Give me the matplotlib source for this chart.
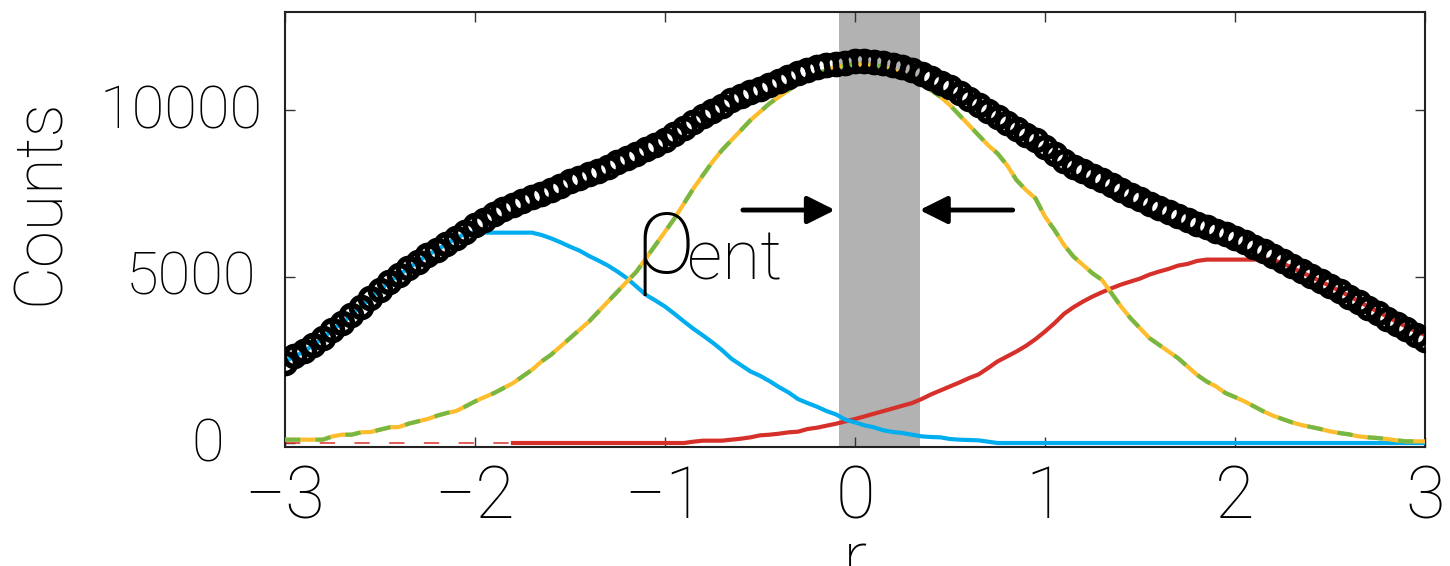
import numpy as np
import matplotlib
matplotlib.use("Agg")
import matplotlib.pyplot as plt
from matplotlib import transforms

plt.rcParams['font.family'] = ['Roboto', 'DejaVu Sans']
plt.rcParams['font.weight'] = 'light'
plt.rcParams['axes.labelweight'] = 'light'
plt.rcParams['lines.scale_dashes'] = False

# bin centres
r = np.linspace(-3, 3, 121)

# total counts (open circles)
counts_total = [
    2400, 2600, 2750, 2950, 3150, 3400, 3600, 3850, 4100, 4350,
    4600, 4850, 5050, 5250, 5450, 5650, 5800, 5980, 6150, 6350,
    6550, 6700, 6880, 7020, 7150, 7260, 7380, 7480, 7600, 7730,
    7860, 7970, 8080, 8180, 8300, 8430, 8560, 8690, 8820, 8960,
    9100, 9280, 9460, 9650, 9830, 9990, 10140, 10300, 10430, 10540,
    10650, 10760, 10880, 11000, 11120, 11220, 11300, 11360, 11400, 11430,
    11480, 11470, 11460, 11430, 11370, 11300, 11210, 11100, 10960, 10830,
    10700, 10520, 10350, 10170, 9980, 9800, 9620, 9430, 9250, 9100,
    8880, 8680, 8470, 8300, 8160, 8020, 7900, 7750, 7600, 7450,
    7320, 7190, 7060, 6940, 6820, 6700, 6590, 6480, 6370, 6270,
    6170, 6040, 5900, 5760, 5620, 5470, 5320, 5170, 5030, 4880,
    4730, 4560, 4400, 4230, 4060, 3900, 3740, 3580, 3420, 3250,
    3080,
]

# left component (blue)
counts_left = [
    2450, 2600, 2750, 2950, 3150, 3400, 3600, 3850, 4100, 4350,
    4600, 4850, 5050, 5250, 5450, 5650, 5800, 5980, 6150, 6300,
    6320, 6320, 6320, 6320, 6320, 6320, 6320, 6250, 6150, 6030,
    5900, 5780, 5620, 5480, 5330, 5150, 4950, 4700, 4450, 4280,
    4100, 3880, 3650, 3430, 3230, 3020, 2790, 2530, 2340, 2150,
    2020, 1860, 1680, 1520, 1320, 1200, 1090, 960, 860, 700,
    620, 530, 470, 380, 330, 300, 250, 200, 180, 170,
    120, 100, 90, 80, 40, 0, 0, 0, 0, 0,
    0, 0, 0, 0, 0, 0, 0, 0, 0, 0,
    0, 0, 0, 0, 0, 0, 0, 0, 0, 0,
    0, 0, 0, 0, 0, 0, 0, 0, 0, 0,
    0, 0, 0, 0, 0, 0, 0, 0, 0, 0,
    0,
]

# central component (yellow / green)
counts_centre = [
    100, 100, 100, 100, 100, 200, 250, 250, 320, 330,
    400, 470, 480, 580, 650, 720, 820, 900, 960, 1100,
    1250, 1380, 1500, 1650, 1800, 2000, 2200, 2450, 2650, 2900,
    3150, 3400, 3650, 3950, 4250, 4550, 4850, 5150, 5550, 5950,
    6350, 6750, 7200, 7650, 8050, 8450, 8800, 9100, 9400, 9700,
    9950, 10200, 10400, 10600, 10800, 10950, 11100, 11200, 11300, 11350,
    11380, 11380, 11350, 11300, 11200, 11100, 10950, 10800, 10600, 10400,
    10150, 9850, 9550, 9250, 8950, 8700, 8350, 7900, 7600, 7350,
    6800, 6400, 5950, 5600, 5350, 5100, 4900, 4500, 4100, 3750,
    3450, 3150, 2950, 2750, 2550, 2300, 2050, 1850, 1700, 1500,
    1380, 1250, 1100, 950, 820, 720, 620, 540, 480, 420,
    350, 300, 260, 200, 170, 150, 120, 80, 50, 50,
    50,
]

# right component (red), starting at r = -1.8
r_right = r[24:]
counts_right = [
    0, 0, 0, 0, 0, 0, 0, 0, 0, 0,
    0, 0, 0, 0, 0, 0, 0, 0, 0, 40,
    70, 70, 70, 100, 130, 170, 230, 250, 280, 320,
    340, 420, 460, 520, 580, 650, 720, 800, 880, 960,
    1040, 1120, 1200, 1320, 1460, 1580, 1700, 1820, 1950, 2060,
    2250, 2450, 2600, 2750, 2920, 3120, 3350, 3600, 3880, 4080,
    4250, 4400, 4530, 4650, 4760, 4850, 4940, 5060, 5150, 5230,
    5330, 5380, 5470, 5510, 5510, 5510, 5510, 5510, 5510, 5510,
    5500, 5400, 5270, 5130, 5000, 4860, 4720, 4570, 4420, 4260,
    4100, 3950, 3800, 3640, 3500, 3360, 3250,
]

band = (-0.085, 0.34)
arrow_y = 7000

BLUE = '#00AEEF'
RED = '#D6302B'
GREEN = '#76B843'
YELLOW = '#FDBD2C'

fig = plt.figure(figsize=(14.5, 5.66), dpi=100)
ax = fig.add_axes([0.19655, 0.21025, 0.78621, 0.76855])

ax.axvspan(band[0], band[1], color='#B2B2B2', lw=0, zorder=1)

# thin dashed baseline for the right component
ax.plot([r[0], r_right[0]], [0, 0], color=RED, lw=1.1, dashes=(11, 14), zorder=2)
ax.plot(r_right, counts_right, color=RED, lw=3, zorder=3)
ax.plot(r, counts_left, color=BLUE, lw=3, zorder=3)
ax.plot(r, counts_centre, color=YELLOW, lw=3, zorder=3)
ax.plot(r, counts_centre, color=GREEN, lw=3, dashes=(11, 11), zorder=3)

ax.plot(r, counts_total, linestyle='none', marker='o', ms=14.5, mfc='none',
        mec='black', mew=4.0, zorder=5)

arrow_kw = dict(arrowstyle='-|>', lw=3.5, color='black', mutation_scale=42,
                shrinkA=0, shrinkB=0)
ax.annotate('', xy=(-0.105, arrow_y), xytext=(-0.59, arrow_y), arrowprops=arrow_kw, zorder=6)
ax.annotate('', xy=(0.34, arrow_y), xytext=(0.83, arrow_y), arrowprops=arrow_kw, zorder=6)

ax.text(-1.165, 5120, 'ρ', fontsize=82, ha='left', va='baseline', zorder=6)
ax.text(-0.885, 4910, 'ent', fontsize=50, ha='left', va='baseline', zorder=6)

ax.set_xlim(-3, 3)
ax.set_ylim(-120, 12950)
ax.set_xticks([-3, -2, -1, 0, 1, 2, 3])
ax.set_xticklabels(['\u22123', '\u22122', '\u22121', '0', '1', '2', '3'])
ax.set_yticks([0, 5000, 10000])
ax.tick_params(direction='in', length=7, width=1, color='#333333',
               top=True, right=True)
ax.tick_params(axis='x', labelsize=52, pad=12)
ax.tick_params(axis='y', labelsize=43, pad=16)
for s in ax.spines.values():
    s.set_linewidth(1.5)
    s.set_color('#222222')

# individual horizontal offsets of the y tick labels (in points)
ytick_shift = {0: -28, 5000: -5, 10000: 0}
for val, lab in zip(ax.get_yticks(), ax.get_yticklabels()):
    off = transforms.ScaledTranslation(ytick_shift[int(val)] / 72, 3 / 72,
                                       fig.dpi_scale_trans)
    lab.set_transform(lab.get_transform() + off)

ax.set_xlabel('r', fontsize=52, labelpad=-4)
ax.set_ylabel('Counts', fontsize=48)
ax.yaxis.set_label_coords(-0.186, 0.563)

fig.savefig('out.png', dpi=100)
